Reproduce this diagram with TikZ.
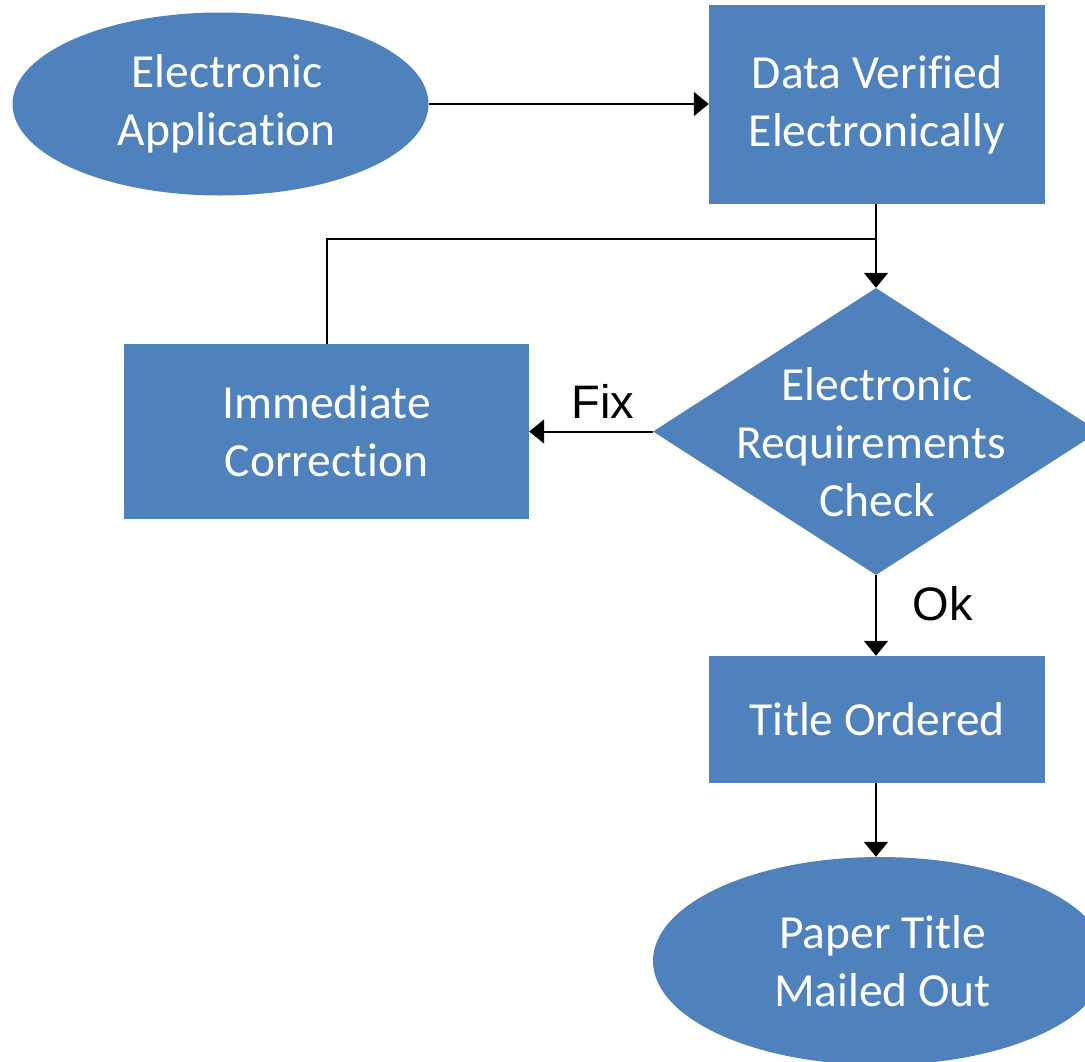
\documentclass[tikz,border=0pt]{standalone}
\usepackage{fontspec}
\setmainfont{Carlito}[Ligatures=NoCommon]
\newfontfamily\labelfont{Liberation Sans}
\usetikzlibrary{shapes.geometric,arrows.meta}
\definecolor{boxblue}{HTML}{4F81BD}
\tikzset{
  flow/.style={fill=boxblue, draw=none, text=white, align=center,
    font=\fontsize{47.5}{58}\selectfont, inner sep=0pt},
  procbox/.style={flow, rectangle},
  terminal/.style={flow, ellipse},
  decision/.style={fill=boxblue, draw=none, diamond, inner sep=0pt},
  conn/.style={line width=2pt, -{Triangle[length=15pt,width=24pt]}},
  plain/.style={line width=2pt},
  branchlabel/.style={font=\labelfont\fontsize{47}{56}\selectfont, inner sep=0pt}
}
\begin{document}
\begin{tikzpicture}[x=1pt, y=-1pt]
  \useasboundingbox (0,0) rectangle (1085,1061);
  \clip (0,0) rectangle (1085,1061);

  % shapes
  \node[terminal, minimum width=416pt, minimum height=183pt] (app) at (220.5,104) {\hspace*{13pt}Electronic\\\hspace*{13pt}Application};
  \node[procbox, minimum width=336pt, minimum height=199pt] (ver) at (877,104.5) {Data Verified\\Electronically};
  \node[decision, minimum width=446pt, minimum height=287pt] (chk) at (876,431.5) {};
  \node[flow, fill=none] (chktext) at (877,442) {Electronic\\\hspace*{-12pt}Requirements\\Check};
  \node[procbox, minimum width=405pt, minimum height=175pt] (fix) at (326.5,431.5) {Immediate\\Correction};
  \node[procbox, minimum width=336pt, minimum height=127pt] (ord) at (877,719.5) {Title Ordered};
  \node[terminal, minimum width=454pt, minimum height=208pt] (mail) at (880,961) {\hspace*{5pt}Paper Title\\\hspace*{5pt}Mailed Out};

  % connectors
  \coordinate (join) at (876,239);
  \draw[conn] (app.east) -- (ver.west |- app.east);
  \draw[conn] (ver.south -| chk.north) -- (chk.north);
  \draw[plain] (fix.north) |- (join);
  \draw[conn] (chk.west) -- (fix.east |- chk.west);
  \draw[conn] (chk.south) -- (ord.north -| chk.south);
  \draw[conn] (ord.south -| chk.south) -- (mail.north -| chk.south);

  % branch labels
  \node[branchlabel] (fixlbl) at (603,401) {Fix};
  \node[branchlabel] (oklbl) at (943,604) {Ok};
\end{tikzpicture}
\end{document}
